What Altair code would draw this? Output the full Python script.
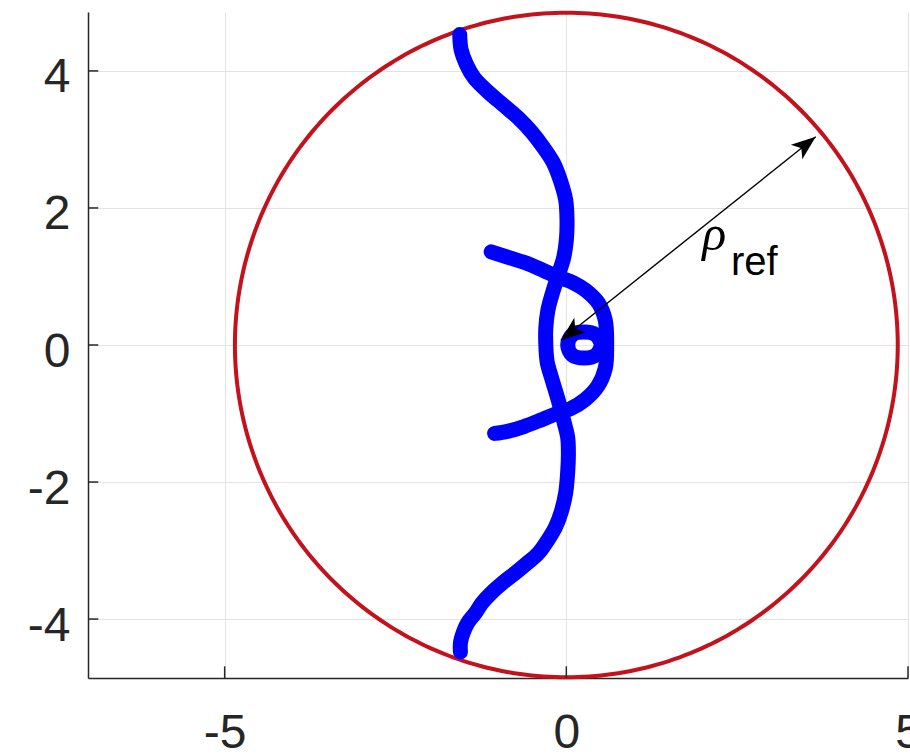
import altair as alt
import numpy as np
import pandas as pd

# Axis ranges and ticks
X_DOMAIN = [-7, 5]
Y_DOMAIN = [-4.86, 4.86]
X_TICKS = [-5, 0, 5]
Y_TICKS = [-4, -2, 0, 2, 4]

# Reference radius (red circle)
RHO_REF = 4.85

# Long branch: from the top of the circle down through the centre to the bottom
long_x = [-1.56, -1.54, -1.46, -1.35, -1.14, -0.92, -0.70, -0.51, -0.34, -0.19,
          -0.09, -0.01, 0.01, 0.00, -0.04, -0.12, -0.20, -0.27, -0.30, -0.30,
          -0.28, -0.21, -0.12, -0.04, 0.02, 0.03, 0.02, -0.01, -0.07, -0.16,
          -0.28, -0.41, -0.58, -0.75, -0.93, -1.10, -1.23, -1.33, -1.44, -1.51,
          -1.55, -1.55]
long_y = [4.53, 4.31, 4.09, 3.90, 3.69, 3.50, 3.31, 3.11, 2.89, 2.66,
          2.41, 2.12, 1.82, 1.53, 1.27, 1.02, 0.77, 0.51, 0.25, 0.00,
          -0.25, -0.50, -0.80, -1.10, -1.35, -1.60, -1.85, -2.16, -2.42, -2.66,
          -2.86, -3.04, -3.19, -3.33, -3.47, -3.62, -3.76, -3.91, -4.05, -4.20,
          -4.35, -4.48]

# Short branch: D-shaped arc crossing the real axis on the right
arc_x = [-1.10, -0.85, -0.60, -0.34, -0.12, 0.10, 0.28, 0.47, 0.57, 0.59,
         0.57, 0.46, 0.27, 0.06, -0.14, -0.36, -0.62, -0.86, -1.05]
arc_y = [1.36, 1.28, 1.20, 1.09, 0.99, 0.91, 0.80, 0.61, 0.36, 0.00,
         -0.34, -0.60, -0.80, -0.93, -1.00, -1.09, -1.19, -1.26, -1.29]

# Small closed loop near the origin
loop_x = [0.52, 0.43, 0.26, 0.09, 0.02, 0.09, 0.26, 0.43, 0.52]
loop_y = [0.00, 0.15, 0.19, 0.15, 0.00, -0.15, -0.19, -0.15, 0.00]

# Double-headed arrow marking the radius
arrow_x = [-0.08, 3.65]
arrow_y = [0.07, 3.04]

# Label pieces
label_rho = "ρ"
label_sub = "ref"

# ---- tables ----
theta = np.linspace(0, 2 * np.pi, 361)
circle = pd.DataFrame({
    "x": RHO_REF * np.cos(theta),
    "y": RHO_REF * np.sin(theta),
    "i": np.arange(len(theta)),
})

parts = []
for name, xs, ys in [("long", long_x, long_y), ("arc", arc_x, arc_y), ("loop", loop_x, loop_y)]:
    parts.append(pd.DataFrame({"x": xs, "y": ys, "branch": name, "i": range(len(xs))}))
locus = pd.concat(parts, ignore_index=True)

arrow = pd.DataFrame({"x": arrow_x, "y": arrow_y, "i": [0, 1]})
dx = arrow_x[1] - arrow_x[0]
dy = arrow_y[1] - arrow_y[0]
head_angle = float(np.degrees(np.arctan2(dx, dy)))
heads = pd.DataFrame({
    "x": arrow_x,
    "y": arrow_y,
    "angle": [(head_angle + 180) % 360, head_angle],
})

labels = pd.DataFrame({
    "x": [1.99, 2.41],
    "y": [1.39, 1.02],
    "text": [label_rho, label_sub],
    "kind": ["rho", "sub"],
})

x_ticks = pd.DataFrame({"x": X_TICKS, "y": Y_DOMAIN[0], "y2": Y_DOMAIN[0] + 0.17})
y_ticks = pd.DataFrame({"y": Y_TICKS, "x": X_DOMAIN[0], "x2": X_DOMAIN[0] + 0.15})

# ---- scales & axes ----
AX_COLOR = "#262626"
GRID_COLOR = "#e3e3e3"
FONT = "Liberation Sans"
HYPHEN_LABEL = "replace(datum.label, '\u2212', '-')"

x_scale = alt.Scale(domain=X_DOMAIN, nice=False, zero=False)
y_scale = alt.Scale(domain=Y_DOMAIN, nice=False, zero=False)

x_axis = alt.Axis(values=X_TICKS, title=None, grid=True, gridColor=GRID_COLOR, gridWidth=1,
                  domainColor=AX_COLOR, domainWidth=1.5, ticks=False, tickSize=0,
                  labelFont=FONT, labelFontSize=48, labelColor=AX_COLOR,
                  labelPadding=31, labelFlush=False, labelOverlap=False,
                  labelExpr=HYPHEN_LABEL)
y_axis = alt.Axis(values=Y_TICKS, title=None, grid=True, gridColor=GRID_COLOR, gridWidth=1,
                  domainColor=AX_COLOR, domainWidth=1.5, ticks=False, tickSize=0,
                  labelFont=FONT, labelFontSize=48, labelColor=AX_COLOR,
                  labelPadding=18, labelOffset=7, labelOverlap=False,
                  labelExpr=HYPHEN_LABEL)


def X(field="x"):
    return alt.X(f"{field}:Q", scale=x_scale, axis=x_axis)


def Y(field="y"):
    return alt.Y(f"{field}:Q", scale=y_scale, axis=y_axis)


circle_layer = alt.Chart(circle).mark_line(color="#c3121c", strokeWidth=4).encode(
    x=X(), y=Y(), order="i:Q"
)

locus_layer = alt.Chart(locus).mark_line(
    color="#0000ff", strokeWidth=15, strokeCap="round", strokeJoin="round",
    interpolate="catmull-rom"
).encode(x=X(), y=Y(), detail="branch:N", order="i:Q")

arrow_layer = alt.Chart(arrow).mark_line(color="black", strokeWidth=1.4).encode(
    x=X(), y=Y(), order="i:Q"
)

# arrowhead with its tip at the symbol origin, pointing up before rotation
head_shape = "M0,0L0.75,2L0,1.5L-0.75,2Z"
head_layer = alt.Chart(heads).mark_point(
    shape=head_shape, filled=True, size=600, color="black", opacity=1, strokeWidth=0
).encode(x=X(), y=Y(), angle=alt.Angle("angle:Q", scale=None))

rho_layer = alt.Chart(labels[labels.kind == "rho"]).mark_text(
    font="Liberation Serif", fontStyle="italic", fontSize=50, align="left",
    baseline="alphabetic", color="black"
).encode(x=X(), y=Y(), text="text:N")

sub_layer = alt.Chart(labels[labels.kind == "sub"]).mark_text(
    font=FONT, fontSize=40, align="left", baseline="alphabetic", color="black"
).encode(x=X(), y=Y(), text="text:N")

xtick_layer = alt.Chart(x_ticks).mark_rule(color=AX_COLOR, strokeWidth=1.5).encode(
    x=X(), y=Y(), y2="y2:Q"
)
ytick_layer = alt.Chart(y_ticks).mark_rule(color=AX_COLOR, strokeWidth=1.5).encode(
    x=X(), x2="x2:Q", y=Y()
)

chart = alt.layer(
    circle_layer, locus_layer, arrow_layer, head_layer, rho_layer, sub_layer,
    xtick_layer, ytick_layer
).properties(
    width=820,
    height=666,
    padding={"left": 88, "top": 12, "right": 2, "bottom": 78},
    autosize=alt.AutoSizeParams(type="none"),
    background="white",
).configure_view(stroke="transparent")

chart.save("out.html", embed_options={"renderer": "svg", "actions": False})
